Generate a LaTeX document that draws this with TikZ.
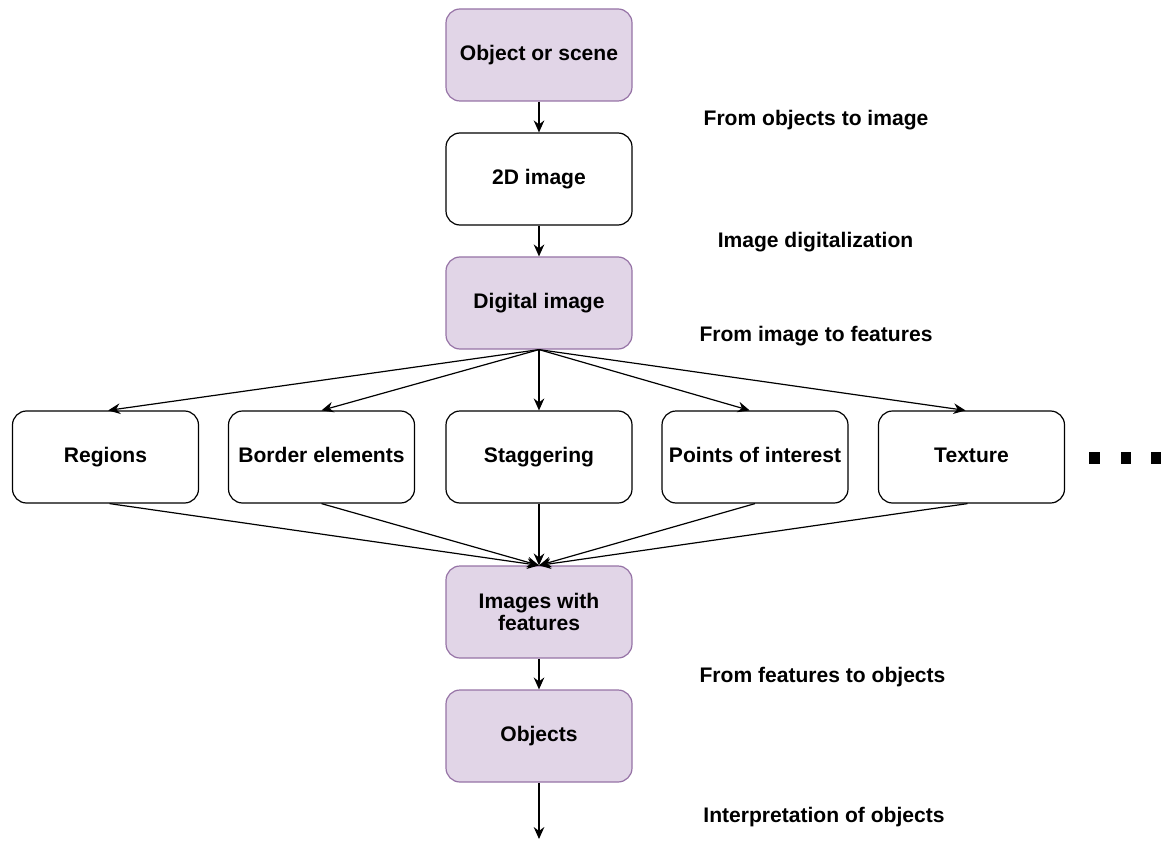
\documentclass[tikz,border=0pt]{standalone}
\usepackage{fontspec}
\setmainfont{Liberation Sans}
\usetikzlibrary{arrows.meta}
\definecolor{lilac}{HTML}{E1D5E7}
\definecolor{lilacborder}{HTML}{9673A6}
\tikzset{
  box/.style={draw=black, fill=white, rounded corners=10.5pt, minimum width=139.5pt, minimum height=69pt, inner sep=0pt, align=center, font=\fontsize{15.8}{17}\selectfont\bfseries, line width=0.9pt},
  pbox/.style={box, draw=lilacborder, fill=lilac},
  rbox/.style={box, text height=11.5pt, text depth=3.5pt},
  lbl/.style={font=\fontsize{15.8}{17}\selectfont\bfseries, inner sep=0pt},
  conn/.style={-{Stealth[length=9pt,width=8pt,inset=3pt]}, line width=0.9pt},
  dotsq/.style={fill=black, draw=none}
}
\begin{document}
\begin{tikzpicture}[x=0.75pt,y=-0.75pt]
\useasboundingbox (0,0) rectangle (1162,841);
\node[pbox] (obj) at (539,55) {Object or scene};
\node[box] (img2d) at (539,179) {2D image};
\node[pbox] (dig) at (539,303) {Digital image};
\node[rbox] (reg) at (105.5,457) {Regions};
\node[rbox] (bord) at (321.5,457) {Border elements};
\node[rbox] (stag) at (539,457) {Staggering};
\node[rbox] (poi) at (755,457) {Points of interest};
\node[rbox] (tex) at (971.5,457) {Texture};
\node[pbox] (iwf) at (539,612) {Images with\\[-1pt]features};
\node[pbox] (objs) at (539,736) {Objects};
\coordinate (end) at (539,839);

\node[lbl] (l1) at (816,120) {From objects to image};
\node[lbl] (l2) at (815.5,242) {Image digitalization};
\node[lbl] (l3) at (816,336) {From image to features};
\node[lbl] (l4) at (822.5,677) {From features to objects};
\node[lbl] (l5) at (824,817) {Interpretation of objects};

\fill[dotsq] (1089,452) rectangle (1100,464);
\fill[dotsq] (1121,452) rectangle (1131,464);
\fill[dotsq] (1151,452) rectangle (1161,464);

\draw[conn] (obj) -- (img2d);
\draw[conn] (img2d) -- (dig);
\draw[conn] (dig.south) -- ([xshift=2pt]reg.north);
\draw[conn] (dig.south) -- (bord.north);
\draw[conn] (dig.south) -- (stag.north);
\draw[conn] (dig.south) -- ([xshift=-4pt]poi.north);
\draw[conn] (dig.south) -- ([xshift=-4.5pt]tex.north);
\draw[conn] ([xshift=3pt]reg.south) -- (iwf.north);
\draw[conn] (bord.south) -- (iwf.north);
\draw[conn] (stag.south) -- (iwf.north);
\draw[conn] (poi.south) -- (iwf.north);
\draw[conn] ([xshift=-3pt]tex.south) -- (iwf.north);
\draw[conn] (iwf) -- (objs);
\draw[conn] (objs.south) -- (end);
\end{tikzpicture}
\end{document}
